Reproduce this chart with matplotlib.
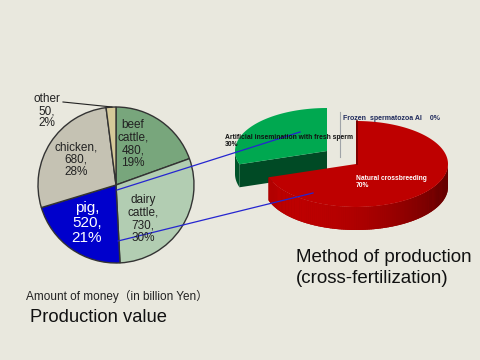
import numpy as np
import matplotlib
matplotlib.use('Agg')
import matplotlib.pyplot as plt
from matplotlib.patches import Polygon

# production value (billion yen), clockwise from 12 o'clock
categories = ['beef\ncattle', 'dairy\ncattle', 'pig', 'chicken', 'other']
values     = [480, 730, 520, 680, 50]
percents   = [19, 30, 21, 28, 2]
colors     = ['#78A67C', '#B2CDB2', '#0000CC', '#C5C2B3', '#D5C999']

# method of production (cross-fertilization), %
methods     = ['Natural crossbreeding', 'Artificial insemination with fresh sperm',
               'Frozen  spermatozoa AI']
method_pct  = [70, 30, 0]

BG = '#E9E8DE'
FONT = ['Liberation Sans', 'Noto Sans CJK JP', 'DejaVu Sans']
plt.rcParams['font.family'] = FONT

fig = plt.figure(figsize=(4.8, 3.6), dpi=100)
fig.patch.set_facecolor(BG)
ax = fig.add_axes([0, 0, 1, 1])


def Y(y):
    # pixel row -> data y
    return 360 - y


# ---- left pie ----
cx, cy, r = 116, Y(185), 78
wedges, _ = ax.pie(values, colors=colors, startangle=90, counterclock=False,
                   center=(cx, cy), radius=r,
                   wedgeprops=dict(edgecolor='#333333', linewidth=1.0))

label_pos = [(133, 144), (143, 219), (87, 223), (76, 160), (47, 111)]
for i, (cat, v, p) in enumerate(zip(categories, values, percents)):
    x, y = label_pos[i]
    sep = '' if cat == 'other' else ','
    txt = f'{cat}{sep}\n{v},\n{p}%'
    if cat == 'pig':
        ax.text(x, Y(y), txt, ha='center', va='center', fontsize=11,
                color='white', linespacing=1.05)
    else:
        ax.text(x, Y(y), txt, ha='center', va='center', fontsize=8.5,
                color='#222222', linespacing=1.05)
ax.plot([63, 112], [Y(102), Y(107)], color='#222222', lw=0.8)

# ---- right 3D pie ----
pcx, pcy, a, b, depth = 356, Y(164), 92, 43, 23
goff = (-29, 13)


def rim(t, dx=0, dy=0, dz=0):
    t = np.radians(t)
    return np.column_stack([pcx + dx + a * np.cos(t), pcy + dy + b * np.sin(t) - dz])


# green wedge (artificial insemination), exploded to upper left
g0, g1 = 90, 90 + 360 * method_pct[1] / 100.0
gx, gy = goff
vtx = np.array([pcx + gx, pcy + gy])
edge = rim(g1, gx, gy)[0]
side = np.array([vtx, edge, edge - [0, depth], vtx - [0, depth]])
ax.add_patch(Polygon(side, closed=True, fc='#004A25', ec='none'))
tt = np.linspace(180, g1, 10)
rs = np.vstack([rim(tt, gx, gy), rim(tt[::-1], gx, gy, depth)])
ax.add_patch(Polygon(rs, closed=True, fc='#00532A', ec='none'))
tt = np.linspace(g0, g1, 60)
top = np.vstack([vtx, rim(tt, gx, gy)])
ax.add_patch(Polygon(top, closed=True, fc='#00A850', ec='none'))

# red wedge (natural crossbreeding)
r0, r1 = g1, 450
tt = np.linspace(r0, 360, 100)
ax.add_patch(Polygon(np.vstack([rim(tt), rim(tt[::-1], dz=depth)]), closed=True,
                     fc='#9A0000', ec='none'))
segs = np.linspace(r0, 360, 120)
for t0, t1 in zip(segs[:-1], segs[1:]):
    tm = 0.5 * (t0 + t1)
    f = 0.62 + 0.33 * np.cos(np.radians(tm - 230))
    tt = np.array([t0, t1 + 0.3])
    pts = np.vstack([rim(tt), rim(tt[::-1], dz=depth)])
    ax.add_patch(Polygon(pts, closed=True, fc=(0.78 * f, 0, 0), ec='none'))
tt = np.linspace(r0, r1, 150)
top = np.vstack([[pcx, pcy], rim(tt)])
ax.add_patch(Polygon(top, closed=True, fc='#BE0000', ec='none'))
ax.plot([pcx + 0.5, pcx + 0.5], [pcy, pcy + b], color='#700000', lw=1.2)

# frozen 0% leader
ax.plot([340, 340], [Y(112), Y(157)], color='#A0A4A8', lw=0.8)
ax.text(343, Y(119), f'{methods[2]}    {method_pct[2]}%', fontsize=5.0,
        fontweight='bold', color='#1F2A5C', va='center', ha='left')
ax.text(225, Y(141), f'{methods[1]}\n{method_pct[1]}%', fontsize=4.9,
        fontweight='bold', color='#111111', va='center', ha='left', linespacing=1.1)
ax.text(356, Y(182), f'{methods[0]}\n{method_pct[0]}%', fontsize=4.8,
        fontweight='bold', color='white', va='center', ha='left', linespacing=1.1)

# connecting lines
ax.plot([117, 300], [Y(190), Y(132)], color='#2525D0', lw=0.9)
ax.plot([118, 313], [Y(241), Y(193)], color='#2525D0', lw=0.9)

# titles
ax.text(296, Y(268), 'Method of production\n(cross-fertilization)', fontsize=13.5,
        color='#111111', va='center', ha='left', linespacing=1.3)
ax.text(26, Y(296), 'Amount of money（in billion Yen）', fontsize=8.5,
        color='#222222', va='center', ha='left')
ax.text(30, Y(317), 'Production value', fontsize=13.2, color='#111111',
        va='center', ha='left')

ax.set_xlim(0, 480)
ax.set_ylim(0, 360)
ax.set_aspect('auto')
ax.axis('off')

fig.savefig('out.png', dpi=100, facecolor=BG)
